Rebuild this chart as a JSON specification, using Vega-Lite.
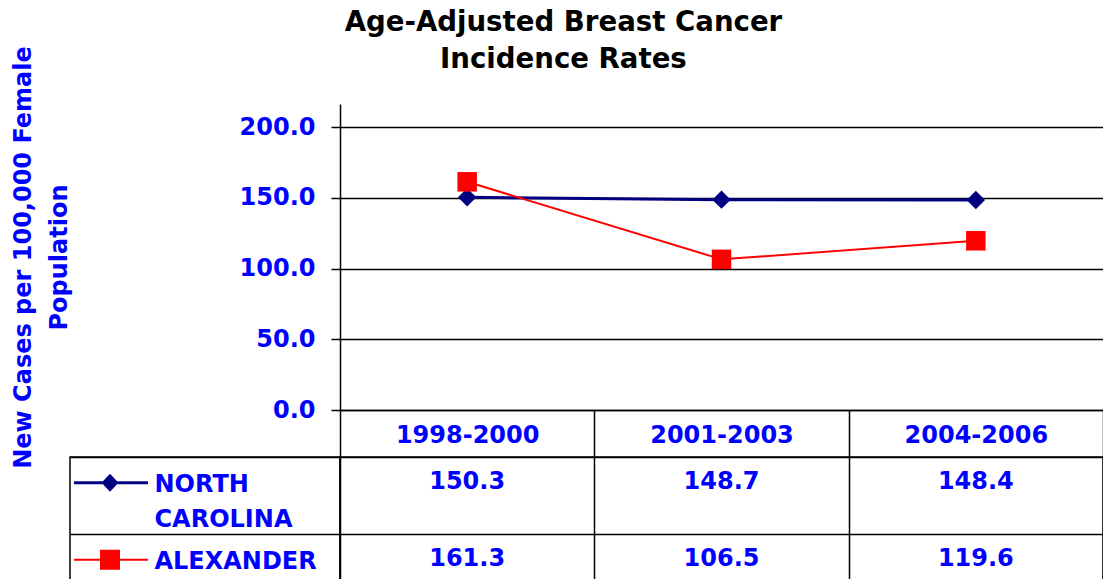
{
  "$schema": "https://vega.github.io/schema/vega-lite/v6.json",
  "background": "white",
  "padding": {"left": 11, "top": 9, "right": 0, "bottom": 0},
  "title": {
    "text": ["Age-Adjusted Breast Cancer", "Incidence Rates"],
    "anchor": "middle",
    "font": "DejaVu Sans",
    "fontSize": 27.6,
    "fontWeight": "bold",
    "color": "#000000",
    "lineHeight": 37,
    "offset": -28,
    "dx": 6
  },
  "datasets": {
    "rates": [
      {"period": "1998-2000", "series": "NORTH CAROLINA", "value": 150.3},
      {"period": "2001-2003", "series": "NORTH CAROLINA", "value": 148.7},
      {"period": "2004-2006", "series": "NORTH CAROLINA", "value": 148.4},
      {"period": "1998-2000", "series": "ALEXANDER", "value": 161.3},
      {"period": "2001-2003", "series": "ALEXANDER", "value": 106.5},
      {"period": "2004-2006", "series": "ALEXANDER", "value": 119.6}
    ],
    "series": [
      {"series": "NORTH CAROLINA"},
      {"series": "ALEXANDER"}
    ]
  },
  "columns": 2,
  "align": "each",
  "bounds": "flush",
  "spacing": {"row": 47, "column": 0},
  "resolve": {"scale": {"shape": "independent", "color": "independent", "x": "independent", "y": "independent"}},
  "concat": [
    {
      "width": 270,
      "height": 306,
      "data": {"values": []},
      "mark": {"type": "text"},
      "encoding": {}
    },
    {
      "width": 763,
      "height": 306,
      "data": {"name": "rates"},
      "encoding": {
        "x": {
          "field": "period",
          "type": "ordinal",
          "sort": ["1998-2000", "2001-2003", "2004-2006"],
          "scale": {"type": "band", "paddingInner": 0, "paddingOuter": 0},
          "axis": {
            "title": null,
            "orient": "bottom",
            "domain": true,
            "domainColor": "#000000",
            "domainWidth": 1.5,
            "ticks": true,
            "tickBand": "extent",
            "tickSize": 47,
            "tickColor": "#000000",
            "tickWidth": 1.5,
            "grid": false,
            "labelAngle": 0,
            "labelFont": "DejaVu Sans",
            "labelFontSize": 24,
            "labelFontWeight": "bold",
            "labelColor": "#0000FF",
            "labelBaseline": "alphabetic",
            "labelPadding": -15
          }
        },
        "y": {
          "field": "value",
          "type": "quantitative",
          "scale": {"domain": [0, 216.3], "nice": false, "zero": true},
          "axis": {
            "values": [0, 50, 100, 150, 200],
            "format": ".1f",
            "title": ["New Cases per 100,000 Female", "Population"],
            "titleFont": "DejaVu Sans",
            "titleFontSize": 24,
            "titleFontWeight": "bold",
            "titleColor": "#0000FF",
            "titleLineHeight": 36,
            "titlePadding": 168,
            "grid": true,
            "gridColor": "#000000",
            "gridWidth": 1.5,
            "domainColor": "#000000",
            "domainWidth": 1.5,
            "tickColor": "#000000",
            "tickWidth": 1.5,
            "tickSize": 9,
            "labelFont": "DejaVu Sans",
            "labelFontSize": 24,
            "labelFontWeight": "bold",
            "labelColor": "#0000FF",
            "labelPadding": 16
          }
        },
        "color": {
          "field": "series",
          "type": "nominal",
          "scale": {"domain": ["NORTH CAROLINA", "ALEXANDER"], "range": ["#000080", "#FF0000"]},
          "legend": null
        }
      },
      "layer": [
        {
          "mark": {"type": "line"},
          "encoding": {
            "strokeWidth": {"condition": {"test": "datum.series == 'ALEXANDER'", "value": 2}, "value": 3}
          }
        },
        {
          "mark": {"type": "point", "filled": true, "opacity": 1},
          "encoding": {
            "shape": {
              "field": "series",
              "type": "nominal",
              "scale": {"domain": ["NORTH CAROLINA", "ALEXANDER"], "range": ["diamond", "square"]},
              "legend": null
            },
            "size": {"condition": {"test": "datum.series == 'ALEXANDER'", "value": 380}, "value": 340}
          }
        }
      ]
    },
    {
      "width": 270,
      "height": 154,
      "view": {"stroke": "#000000", "strokeWidth": 1.5},
      "data": {"name": "series"},
      "mark": {"type": "point", "filled": true, "opacity": 1},
      "encoding": {
        "y": {
          "field": "series",
          "type": "nominal",
          "sort": ["NORTH CAROLINA", "ALEXANDER"],
          "scale": {"type": "band", "paddingInner": 0, "paddingOuter": 0},
          "bandPosition": 0.335,
          "axis": {
            "title": null,
            "domain": false,
            "ticks": false,
            "grid": true,
            "tickBand": "extent",
            "gridColor": "#000000",
            "gridWidth": 1.5,
            "labelAlign": "left",
            "labelBaseline": "alphabetic",
            "labelPadding": -84,
            "labelOffset": -4,
            "labelFont": "DejaVu Sans",
            "labelFontSize": 24,
            "labelFontWeight": "bold",
            "labelColor": "#0000FF",
            "labelLineHeight": 34.5,
            "labelLimit": 0,
            "labelOverlap": false,
            "labelBound": false,
            "labelExpr": "datum.value == 'NORTH CAROLINA' ? ['NORTH', 'CAROLINA'] : datum.value"
          }
        },
        "shape": {
          "field": "series",
          "type": "nominal",
          "scale": {
            "domain": ["NORTH CAROLINA", "ALEXANDER"],
            "range": [
              "M-0.970,-0.0111H-0.422V0.0111H-0.970Z M-0.7037,-0.0667L-0.6407,0L-0.7037,0.0667L-0.7667,0Z",
              "M-0.970,-0.0074H-0.422V0.0074H-0.970Z M-0.7777,-0.074H-0.6297V0.074H-0.7777Z"
            ]
          },
          "legend": null
        },
        "color": {
          "field": "series",
          "type": "nominal",
          "scale": {"domain": ["NORTH CAROLINA", "ALEXANDER"], "range": ["#000080", "#FF0000"]},
          "legend": null
        },
        "size": {"value": 72900}
      }
    },
    {
      "width": 763,
      "height": 154,
      "view": {"stroke": "#000000", "strokeWidth": 1.5},
      "data": {"name": "rates"},
      "mark": {
        "type": "text",
        "font": "DejaVu Sans",
        "fontSize": 24,
        "fontWeight": "bold",
        "color": "#0000FF",
        "baseline": "alphabetic",
        "align": "center"
      },
      "encoding": {
        "x": {
          "field": "period",
          "type": "ordinal",
          "sort": ["1998-2000", "2001-2003", "2004-2006"],
          "scale": {"type": "band", "paddingInner": 0, "paddingOuter": 0},
          "axis": {
            "title": null,
            "labels": false,
            "ticks": false,
            "domain": false,
            "grid": true,
            "tickBand": "extent",
            "gridColor": "#000000",
            "gridWidth": 1.5
          }
        },
        "y": {
          "field": "series",
          "type": "nominal",
          "sort": ["NORTH CAROLINA", "ALEXANDER"],
          "scale": {"type": "band", "paddingInner": 0, "paddingOuter": 0},
          "bandPosition": 0.41,
          "axis": {
            "title": null,
            "labels": false,
            "ticks": false,
            "domain": false,
            "grid": true,
            "tickBand": "extent",
            "gridColor": "#000000",
            "gridWidth": 1.5
          }
        },
        "text": {"field": "value", "type": "quantitative", "format": ".1f"}
      }
    }
  ],
  "config": {
    "font": "DejaVu Sans",
    "view": {"stroke": null}
  }
}
